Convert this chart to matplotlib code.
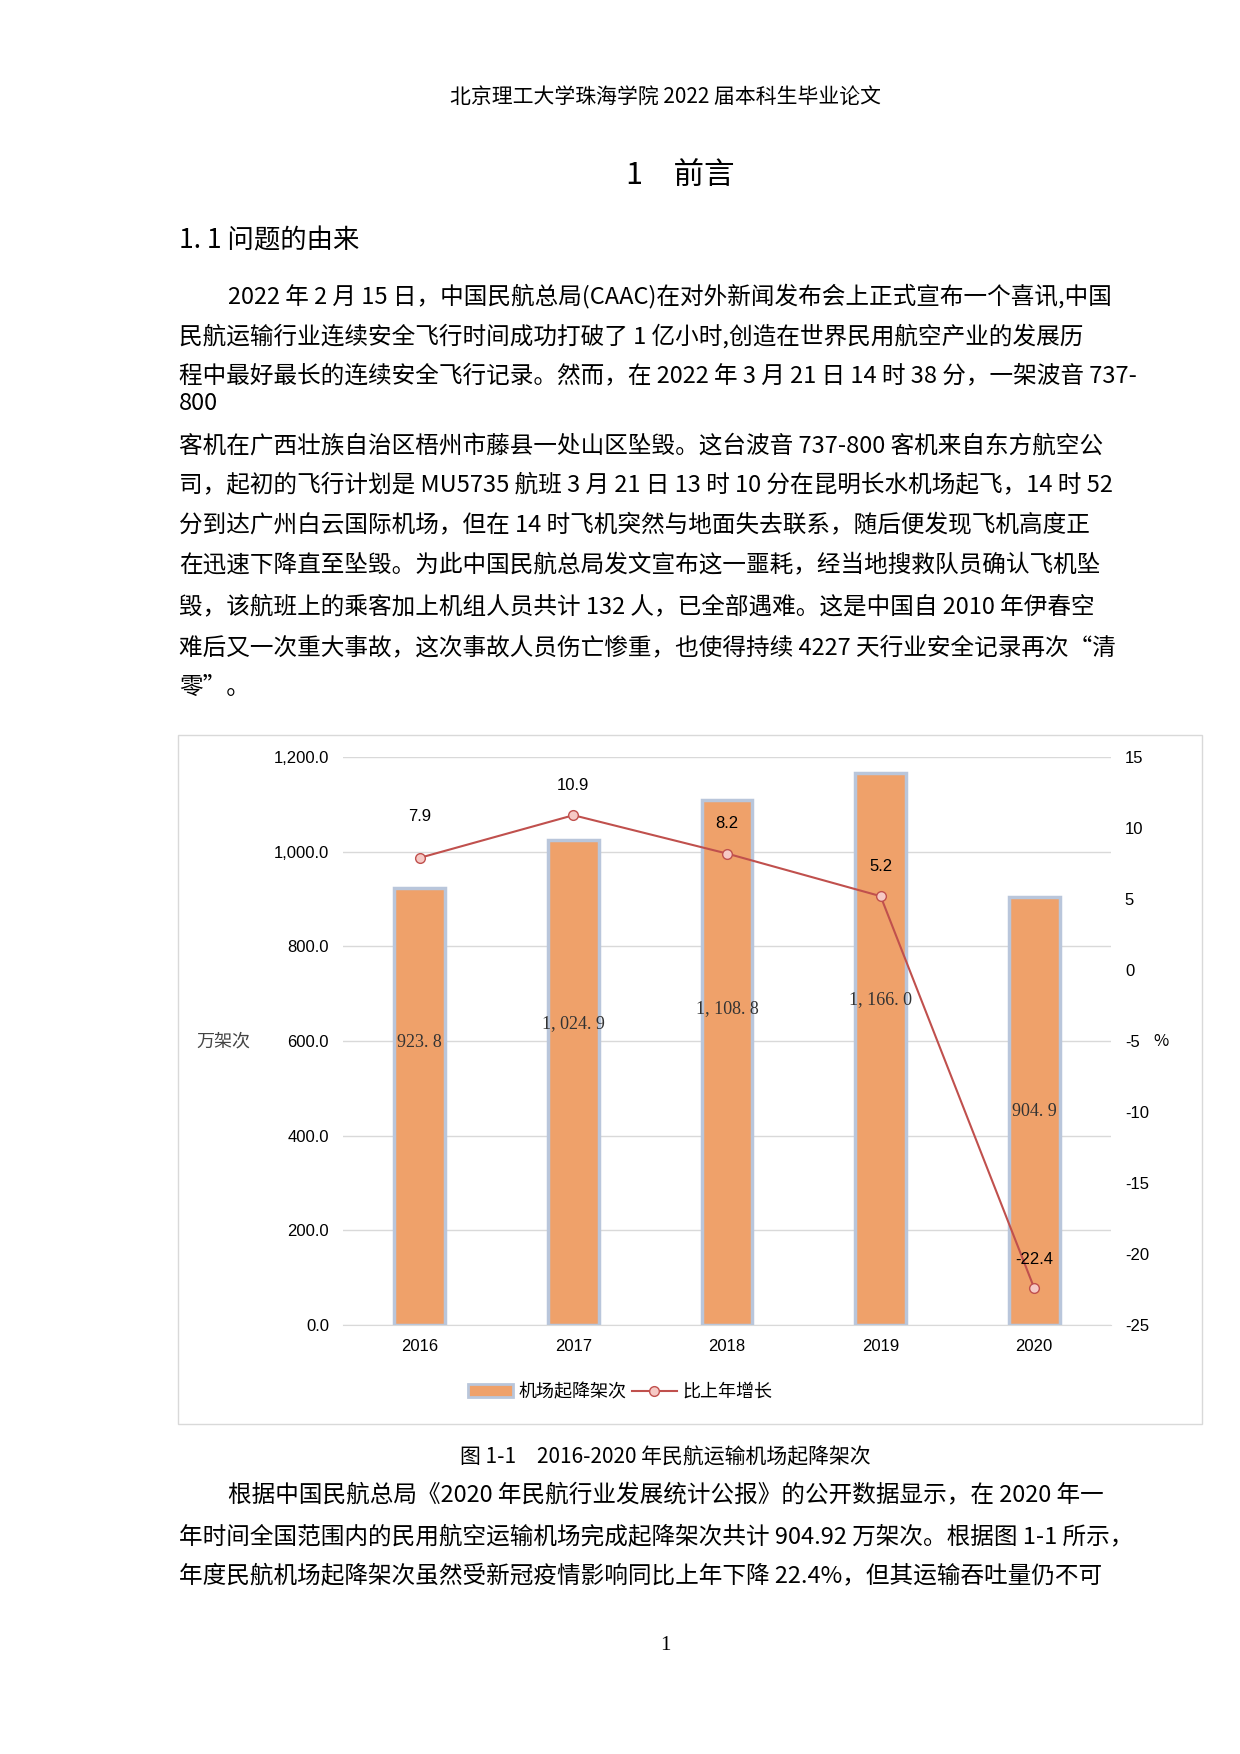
import matplotlib.pyplot as plt
import numpy as np

plt.rcParams['font.family'] = ['Noto Sans CJK SC', 'DejaVu Sans']

# 数据
years = ['2016', '2017', '2018', '2019', '2020']
flights = [923.8, 1024.9, 1108.8, 1166.0, 904.9]
flight_labels = ['923. 8', '1, 024. 9', '1, 108. 8', '1, 166. 0', '904. 9']
growth = [7.9, 10.9, 8.2, 5.2, -22.4]

W, H = 1240, 1754
fig = plt.figure(figsize=(12.4, 17.54), dpi=100)

def px(x, y):
    return x / W, 1 - y / H

fs = 17
fig.text(*px(665, 98), '北京理工大学珠海学院 2022 届本科生毕业论文', ha='center', va='center', fontsize=15)
fig.text(*px(680, 176), '1　前言', ha='center', va='center', fontsize=22)
fig.text(*px(179, 241), '1. 1 问题的由来', ha='left', va='center', fontsize=19)

lines = [
    (228, 296, '2022 年 2 月 15 日，中国民航总局(CAAC)在对外新闻发布会上正式宣布一个喜讯,中国'),
    (179, 336, '民航运输行业连续安全飞行时间成功打破了 1 亿小时,创造在世界民用航空产业的发展历'),
    (179, 376, '程中最好最长的连续安全飞行记录。然而，在 2022 年 3 月 21 日 14 时 38 分，一架波音 737-'),
    (179, 404, '800'),
    (179, 446, '客机在广西壮族自治区梧州市藤县一处山区坠毁。这台波音 737-800 客机来自东方航空公'),
    (179, 486, '司，起初的飞行计划是 MU5735 航班 3 月 21 日 13 时 10 分在昆明长水机场起飞，14 时 52'),
    (179, 526, '分到达广州白云国际机场，但在 14 时飞机突然与地面失去联系，随后便发现飞机高度正'),
    (179, 566, '在迅速下降直至坠毁。为此中国民航总局发文宣布这一噩耗，经当地搜救队员确认飞机坠'),
    (179, 607, '毁，该航班上的乘客加上机组人员共计 132 人，已全部遇难。这是中国自 2010 年伊春空'),
    (179, 648, '难后又一次重大事故，这次事故人员伤亡惨重，也使得持续 4227 天行业安全记录再次“清'),
    (179, 687, '零”。'),
]
for x, y, t in lines:
    fig.text(*px(x, y), t, ha='left', va='center', fontsize=fs)

lines2 = [
    (228, 1496, '根据中国民航总局《2020 年民航行业发展统计公报》的公开数据显示，在 2020 年一'),
    (179, 1537, '年时间全国范围内的民用航空运输机场完成起降架次共计 904.92 万架次。根据图 1-1 所示，'),
    (179, 1577, '年度民航机场起降架次虽然受新冠疫情影响同比上年下降 22.4%，但其运输吞吐量仍不可'),
]
for x, y, t in lines2:
    fig.text(*px(x, y), t, ha='left', va='center', fontsize=fs)

fig.text(*px(665, 1457), '图 1-1　2016-2020 年民航运输机场起降架次', ha='center', va='center', fontsize=15)
fig.text(*px(665, 1646), '1', ha='center', va='center', fontsize=15, family='Liberation Serif')

# 图框
frame = plt.Rectangle((178 / W, 1 - 1424 / H), (1202 - 178) / W, (1424 - 735) / H,
                      transform=fig.transFigure, fill=False, edgecolor='#d9d9d9', lw=1)
fig.patches.append(frame)

left, right, top, bottom = 343, 1111, 757, 1325
ax = fig.add_axes([left / W, 1 - bottom / H, (right - left) / W, (bottom - top) / H])
x = np.arange(len(years))
ax.bar(x, flights, width=0.33, color='#EFA16A', edgecolor='#B9C6DB', linewidth=2.5, zorder=2)
ax.set_ylim(0, 1200)
ax.set_yticks(np.arange(0, 1201, 200))
ax.set_yticklabels([f'{v:,.1f}' for v in np.arange(0, 1201, 200)], family='Liberation Sans')
ax.grid(axis='y', color='#d9d9d9', lw=1, zorder=0)
ax.set_xlim(-0.5, 4.5)
ax.set_xticks(x)
ax.set_xticklabels(years, family='Liberation Sans')
for s in ax.spines.values():
    s.set_visible(False)
ax.spines['bottom'].set_visible(True)
ax.spines['bottom'].set_color('#d9d9d9')
ax.tick_params(length=0, labelsize=12, pad=10)
for i, lab in enumerate(flight_labels):
    ax.text(i, flights[i] / 2 + 135 - i * 10 if i < 4 else 450, lab, ha='center', va='center',
            fontsize=13, family='Liberation Serif', color='#333333')
ax.text(-0.12, 0.5, '万架次', transform=ax.transAxes, ha='right', va='center', fontsize=13, color='#444444')

ax2 = ax.twinx()
ax2.plot(x, growth, color='#C0504D', lw=1.5, marker='o', ms=7,
         markerfacecolor='#F6C9C5', markeredgecolor='#C0504D', zorder=3)
ax2.set_ylim(-25, 15)
ax2.set_yticks(np.arange(-25, 16, 5))
ax2.set_yticklabels([str(v) for v in np.arange(-25, 16, 5)], family='Liberation Sans')
for s in ax2.spines.values():
    s.set_visible(False)
ax2.tick_params(length=0, labelsize=12, pad=10)
offs = [2.9, 2.1, 2.1, 2.1, 2.0]
for i, g in enumerate(growth):
    ax2.text(i, g + offs[i], f'{g}', ha='center', va='center', fontsize=12, family='Liberation Sans')
ax2.text(1.065, 0.5, '%', transform=ax2.transAxes, ha='center', va='center', fontsize=12)

from matplotlib.patches import Patch
from matplotlib.lines import Line2D
handles = [Patch(facecolor='#EFA16A', edgecolor='#B9C6DB', lw=2),
           Line2D([], [], color='#C0504D', marker='o', markerfacecolor='#F6C9C5', ms=7)]
fig.legend(handles, ['机场起降架次', '比上年增长'], loc='center', bbox_to_anchor=(0.5, 1 - 1392 / H),
           ncol=2, frameon=False, fontsize=13, handlelength=2.5, columnspacing=0.3, handletextpad=0.3)

fig.savefig('out.png', dpi=100, facecolor='white')
